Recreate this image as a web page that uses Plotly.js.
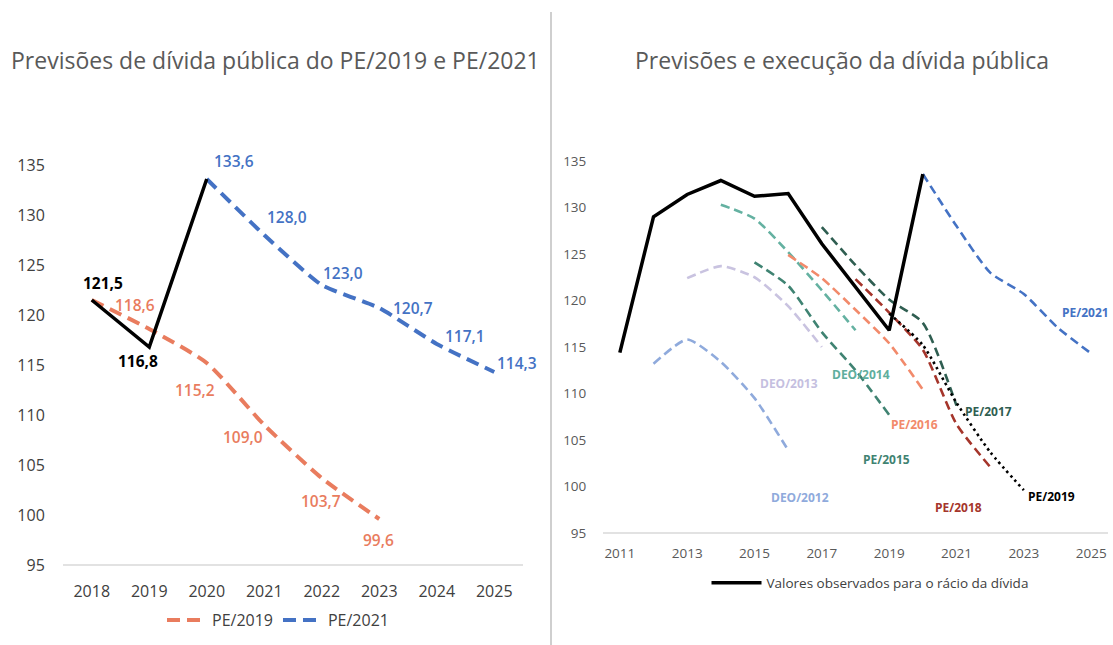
<!DOCTYPE html>
<html>
<head>
<meta charset="utf-8">
<script src="https://cdn.plot.ly/plotly-3.0.1.min.js"></script>
<style>html,body{margin:0;padding:0;background:#fff;}#chart{width:1113px;height:645px;}</style>
</head>
<body>
<div id="chart"></div>
<script>
// ---------- data: left chart ----------
const leftObsYears = [2018, 2019, 2020];
const leftObsValues = [121.5, 116.8, 133.6];
const pe2019Years = [2018, 2019, 2020, 2021, 2022, 2023];
const pe2019Values = [121.5, 118.6, 115.2, 109.0, 103.7, 99.6];
const pe2021Years = [2020, 2021, 2022, 2023, 2024, 2025];
const pe2021Values = [133.6, 128.0, 123.0, 120.7, 117.1, 114.3];

// ---------- data: right chart ----------
const obsYears = [2011, 2012, 2013, 2014, 2015, 2016, 2017, 2018, 2019, 2020];
const obsValues = [114.4, 129.0, 131.4, 132.9, 131.2, 131.5, 126.1, 121.5, 116.8, 133.6];
const deo2012Years = [2012, 2013, 2014, 2015, 2016];
const deo2012Values = [113.2, 115.8, 113.4, 109.5, 103.9];
const deo2013Years = [2013, 2014, 2015, 2016, 2017];
const deo2013Values = [122.4, 123.7, 122.5, 119.4, 115.0];
const deo2014Years = [2014, 2015, 2016, 2017, 2018];
const deo2014Values = [130.3, 128.8, 125.2, 121.1, 116.8];
const pe2015Years = [2015, 2016, 2017, 2018, 2019];
const pe2015Values = [124.1, 121.6, 116.6, 112.5, 107.7];
const pe2016Years = [2016, 2017, 2018, 2019, 2020];
const pe2016Values = [124.9, 122.4, 119.0, 115.4, 110.4];
const pe2017Years = [2017, 2018, 2019, 2020, 2021];
const pe2017Values = [127.9, 123.8, 120.1, 117.6, 108.7];
const pe2018Years = [2018, 2019, 2020, 2021, 2022];
const pe2018Values = [122.3, 118.7, 114.7, 106.7, 102.1];
const pe2019RYears = [2019, 2020, 2021, 2022, 2023];
const pe2019RValues = [118.6, 115.2, 109.0, 103.7, 99.6];
const pe2021RYears = [2020, 2021, 2022, 2023, 2024, 2025];
const pe2021RValues = [133.6, 128.0, 123.0, 120.7, 117.1, 114.3];

const yTicks = [95, 100, 105, 110, 115, 120, 125, 130, 135];

// ---------- styles ----------
const ORANGE = '#E97C5E', BLUE = '#4472C4';
const FAM = 'Open Sans, Noto Sans, sans-serif';
const fmt = v => v.toFixed(1).replace('.', ',');

const traces = [];
// Left
traces.push({x: pe2019Years, y: pe2019Values, xaxis: 'x', yaxis: 'y', mode: 'lines', name: 'PE/2019',
  line: {color: ORANGE, width: 4, dash: '13px,7px', shape: 'spline', smoothing: 0.6}, legend: 'legend'});
traces.push({x: pe2021Years, y: pe2021Values, xaxis: 'x', yaxis: 'y', mode: 'lines', name: 'PE/2021',
  line: {color: BLUE, width: 4, dash: '13px,7px', shape: 'spline', smoothing: 0.5}, legend: 'legend'});
traces.push({x: leftObsYears, y: leftObsValues, xaxis: 'x', yaxis: 'y', mode: 'lines', showlegend: false,
  line: {color: '#000', width: 3.5}});

// Right
const rightSeries = [
  {n: 'DEO/2012', x: deo2012Years, y: deo2012Values, c: '#8FAADC', lc: '#8FAADC', dx: 12, dy: -47},
  {n: 'DEO/2013', x: deo2013Years, y: deo2013Values, c: '#C9C3E0', lc: '#C5BFE0', dx: -33, dy: -36},
  {n: 'DEO/2014', x: deo2014Years, y: deo2014Values, c: '#64B1A1', lc: '#5FAE9D', dx: 5, dy: -44},
  {n: 'PE/2015', x: pe2015Years, y: pe2015Values, c: '#3F8372', lc: '#3F8372', dx: -3, dy: -45},
  {n: 'PE/2016', x: pe2016Years, y: pe2016Values, c: '#F28A6B', lc: '#F28A6B', dx: -8, dy: -35},
  {n: 'PE/2017', x: pe2017Years, y: pe2017Values, c: '#2F5E51', lc: '#2F5E51', dx: 32, dy: -6},
  {n: 'PE/2018', x: pe2018Years, y: pe2018Values, c: '#A5352B', lc: '#A5352B', dx: -32, dy: -41},
  {n: 'PE/2021', x: pe2021RYears, y: pe2021RValues, c: BLUE, lc: BLUE, dx: -6, dy: 41}
];
rightSeries.forEach(s => {
  traces.push({x: s.x, y: s.y, xaxis: 'x2', yaxis: 'y2', mode: 'lines', name: s.n, showlegend: false,
    line: {color: s.c, width: 2.6, dash: '9px,5px', shape: 'spline', smoothing: 0.6}});
});
traces.push({x: pe2019RYears, y: pe2019RValues, xaxis: 'x2', yaxis: 'y2', mode: 'lines', name: 'PE/2019', showlegend: false,
  line: {color: '#000', width: 2.6, dash: '2.5px,3.5px', shape: 'spline', smoothing: 0.6}});
traces.push({x: obsYears, y: obsValues, xaxis: 'x2', yaxis: 'y2', mode: 'lines',
  name: 'Valores observados para o rácio da dívida', legend: 'legend2',
  line: {color: '#000', width: 3.5}});

// ---------- annotations ----------
const ann = [];
const labFont = (c, w) => ({family: FAM, size: 15.5, color: c, weight: w || 600});
// left value labels
const obsOff = [[11, 17], [-11, -14], null];
leftObsYears.forEach((yr, i) => {
  if (!obsOff[i]) return;
  ann.push({xref: 'x', yref: 'y', x: yr, y: leftObsValues[i], text: fmt(leftObsValues[i]), showarrow: false,
    xshift: obsOff[i][0], yshift: obsOff[i][1], font: labFont('#000', 700)});
});
const pe19Off = [null, [-14, 24], [-12, -27], [-21, -12], [-1, -23], [-1, -21]];
pe2019Years.forEach((yr, i) => {
  if (!pe19Off[i]) return;
  ann.push({xref: 'x', yref: 'y', x: yr, y: pe2019Values[i], text: fmt(pe2019Values[i]), showarrow: false,
    xshift: pe19Off[i][0], yshift: pe19Off[i][1], font: labFont(ORANGE)});
});
const pe21Off = [[27, 18], [23, 18], [21, 12], [34, 0], [28, 8], [23, 9]];
pe2021Years.forEach((yr, i) => {
  ann.push({xref: 'x', yref: 'y', x: yr, y: pe2021Values[i], text: fmt(pe2021Values[i]), showarrow: false,
    xshift: pe21Off[i][0], yshift: pe21Off[i][1], font: labFont(BLUE)});
});
// right series labels, anchored at the last point of each series
const smallFont = (c) => ({family: FAM, size: 12, color: c, weight: 700});
rightSeries.forEach(s => {
  const k = s.x.length - 1;
  ann.push({xref: 'x2', yref: 'y2', x: s.x[k], y: s.y[k], text: s.n, showarrow: false,
    xshift: s.dx, yshift: s.dy, font: smallFont(s.lc)});
});
{
  const k = pe2019RYears.length - 1;
  ann.push({xref: 'x2', yref: 'y2', x: pe2019RYears[k], y: pe2019RValues[k], text: 'PE/2019', showarrow: false,
    xshift: 28, yshift: -6, font: smallFont('#000')});
}
// titles
const titleFont = {family: FAM, size: 23, color: '#595959'};
ann.push({xref: 'paper', yref: 'paper', x: 275 / 1113, y: 1 - 60 / 645, text: 'Previsões de dívida pública do PE/2019 e PE/2021',
  showarrow: false, font: titleFont, xanchor: 'center', yanchor: 'middle'});
ann.push({xref: 'paper', yref: 'paper', x: 842 / 1113, y: 1 - 60 / 645, text: 'Previsões e execução da dívida pública',
  showarrow: false, font: titleFont, xanchor: 'center', yanchor: 'middle'});

const layout = {
  width: 1113, height: 645,
  margin: {l: 0, r: 0, t: 0, b: 0},
  paper_bgcolor: '#fff', plot_bgcolor: 'rgba(0,0,0,0)',
  showlegend: true,
  xaxis: {domain: [63 / 1113, 523 / 1113], range: [2017.5, 2025.5], tickmode: 'array', tickvals: [2018, 2019, 2020, 2021, 2022, 2023, 2024, 2025],
    showgrid: false, zeroline: false, showline: false, ticks: 'outside', ticklen: 12, tickcolor: 'rgba(0,0,0,0)',
    tickfont: {family: FAM, size: 16, color: '#404040'}, fixedrange: true},
  yaxis: {domain: [1 - 565 / 645, 1 - 165 / 645], range: [95, 135], tickmode: 'array', tickvals: yTicks,
    showgrid: false, zeroline: false, showline: false, ticks: 'outside', ticklen: 14, tickcolor: 'rgba(0,0,0,0)',
    tickfont: {family: FAM, size: 16, color: '#404040'}, fixedrange: true},
  xaxis2: {domain: [603 / 1113, 1108 / 1113], range: [2010.5, 2025.5], tickmode: 'array', tickvals: [2011, 2013, 2015, 2017, 2019, 2021, 2023, 2025],
    anchor: 'y2', showgrid: false, zeroline: false, showline: false, ticks: 'outside', ticklen: 8, tickcolor: 'rgba(0,0,0,0)',
    tickfont: {family: FAM, size: 13.5, color: '#595959'}, fixedrange: true},
  yaxis2: {domain: [1 - 533 / 645, 1 - 161 / 645], range: [95, 135], tickmode: 'array', tickvals: yTicks, anchor: 'x2',
    showgrid: false, zeroline: false, showline: false, ticks: 'outside', ticklen: 13, tickcolor: 'rgba(0,0,0,0)',
    tickfont: {family: FAM, size: 13.5, color: '#595959'}, fixedrange: true},
  legend: {orientation: 'h', x: 278 / 1113, xanchor: 'center', y: 1 - 620 / 645, yanchor: 'middle',
    font: {family: FAM, size: 16, color: '#404040'}, bgcolor: 'rgba(0,0,0,0)', itemwidth: 40},
  legend2: {orientation: 'h', x: 870 / 1113, xanchor: 'center', y: 1 - 583 / 645, yanchor: 'middle',
    font: {family: FAM, size: 13.5, color: '#404040'}, bgcolor: 'rgba(0,0,0,0)', itemwidth: 50},
  shapes: [
    {type: 'line', xref: 'paper', yref: 'paper', x0: 63 / 1113, x1: 523 / 1113, y0: 1 - 565 / 645, y1: 1 - 565 / 645, line: {color: '#D9D9D9', width: 1.3}},
    {type: 'line', xref: 'paper', yref: 'paper', x0: 603 / 1113, x1: 1108 / 1113, y0: 1 - 533 / 645, y1: 1 - 533 / 645, line: {color: '#D9D9D9', width: 1.3}},
    {type: 'line', xref: 'paper', yref: 'paper', x0: 551 / 1113, x1: 551 / 1113, y0: 0, y1: 1 - 12 / 645, line: {color: '#BFBFBF', width: 1.5}}
  ],
  annotations: ann
};

Plotly.newPlot('chart', traces, layout, {displayModeBar: false, staticPlot: true});
</script>
</body>
</html>
